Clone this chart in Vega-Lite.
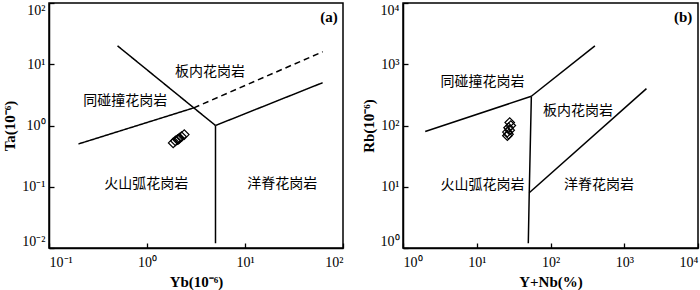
{
  "$schema": "https://vega.github.io/schema/vega-lite/v6.json",
  "padding": {"left": 2, "top": 1, "right": 0, "bottom": 0},
  "background": "white",
  "bounds": "flush",
  "spacing": 60,
  "config": {
    "view": {"stroke": "black", "strokeWidth": 1.5},
    "axis": {
      "grid": false,
      "domainColor": "black",
      "domainWidth": 1.5,
      "tickColor": "black",
      "tickWidth": 1.3,
      "tickSize": -5,
      "labelColor": "black",
      "labelFont": "Liberation Serif",
      "labelFontSize": 14,
      "labelFlush": true,
      "titleFont": "Liberation Serif",
      "titleFontSize": 15,
      "titleFontWeight": "bold",
      "titleColor": "black",
      "labelExpr": "'10' + replace(replace(replace(replace(replace(replace('' + round(log(datum.value)/LN10), '-', '⁻'), '0', '⁰'), '1', '¹'), '2', '²'), '3', '³'), '4', '⁴')"
    },
    "axisX": {"labelPadding": 12, "titlePadding": 5},
    "axisY": {"labelPadding": 9, "titlePadding": 4}
  },
  "datasets": {
    "a_lines": [
      {"seg": "a1", "o": 1, "x": 0.5, "y": 20, "dash": "solid"},
      {"seg": "a1", "o": 2, "x": 5, "y": 1, "dash": "solid"},
      {"seg": "a2", "o": 1, "x": 5, "y": 1, "dash": "solid"},
      {"seg": "a2", "o": 2, "x": 5, "y": 0.012, "dash": "solid"},
      {"seg": "a3", "o": 1, "x": 5, "y": 1, "dash": "solid"},
      {"seg": "a3", "o": 2, "x": 62, "y": 5, "dash": "solid"},
      {"seg": "a4", "o": 1, "x": 0.2, "y": 0.5, "dash": "solid"},
      {"seg": "a4", "o": 2, "x": 3.0, "y": 1.94, "dash": "solid"},
      {"seg": "a5", "o": 1, "x": 3.0, "y": 1.94, "dash": "dashed"},
      {"seg": "a5", "o": 2, "x": 62, "y": 16, "dash": "dashed"}
    ],
    "a_labels": [
      {"x": 4.4, "y": 7.5, "label": "板内花岗岩"},
      {"x": 0.6, "y": 2.5, "label": "同碰撞花岗岩"},
      {"x": 0.98, "y": 0.11, "label": "火山弧花岗岩"},
      {"x": 24, "y": 0.11, "label": "洋脊花岗岩"}
    ],
    "a_points": [
      {"x": 1.85, "y": 0.52},
      {"x": 1.95, "y": 0.56},
      {"x": 2.05, "y": 0.59},
      {"x": 2.1, "y": 0.6},
      {"x": 2.15, "y": 0.62},
      {"x": 2.25, "y": 0.66},
      {"x": 2.4, "y": 0.71}
    ],
    "b_lines": [
      {"seg": "b1", "o": 1, "x": 2, "y": 80},
      {"seg": "b1", "o": 2, "x": 55, "y": 300},
      {"seg": "b2", "o": 1, "x": 55, "y": 300},
      {"seg": "b2", "o": 2, "x": 400, "y": 2000},
      {"seg": "b3", "o": 1, "x": 55, "y": 300},
      {"seg": "b3", "o": 2, "x": 51.5, "y": 8},
      {"seg": "b3", "o": 3, "x": 50, "y": 1.2},
      {"seg": "b4", "o": 1, "x": 51.5, "y": 8},
      {"seg": "b4", "o": 2, "x": 2000, "y": 400}
    ],
    "b_labels": [
      {"x": 12, "y": 513, "label": "同碰撞花岗岩"},
      {"x": 236, "y": 173, "label": "板内花岗岩"},
      {"x": 12, "y": 10.6, "label": "火山弧花岗岩"},
      {"x": 455, "y": 10.6, "label": "洋脊花岗岩"}
    ],
    "b_points": [
      {"x": 28, "y": 112},
      {"x": 29, "y": 100},
      {"x": 27, "y": 92},
      {"x": 28, "y": 84},
      {"x": 26, "y": 78},
      {"x": 27, "y": 72},
      {"x": 26, "y": 68}
    ],
    "a_tag": [{"x": 72, "y": 59, "label": "(a)"}],
    "b_tag": [{"x": 6300, "y": 5900, "label": "(b)"}]
  },
  "hconcat": [
    {
      "width": 294,
      "height": 245,
      "layer": [
        {
          "data": {"name": "a_lines"},
          "mark": {"type": "line", "color": "black", "strokeWidth": 1.5},
          "encoding": {
            "x": {"field": "x", "type": "quantitative", "scale": {"type": "log", "domain": [0.1, 100], "nice": false}, "axis": {"values": [0.1, 1, 10, 100], "title": "Yb(10⁻⁶)"}},
            "y": {"field": "y", "type": "quantitative", "scale": {"type": "log", "domain": [0.01, 100], "nice": false}, "axis": {"values": [0.01, 0.1, 1, 10, 100], "title": "Ta(10⁻⁶)"}},
            "detail": {"field": "seg"},
            "order": {"field": "o"},
            "strokeDash": {"field": "dash", "type": "nominal", "scale": {"domain": ["solid", "dashed"], "range": [[1, 0], [6, 4]]}, "legend": null}
          }
        },
        {
          "data": {"name": "a_labels"},
          "mark": {"type": "text", "font": "Noto Sans CJK SC", "fontSize": 14, "color": "black"},
          "encoding": {
            "x": {"field": "x", "type": "quantitative"},
            "y": {"field": "y", "type": "quantitative"},
            "text": {"field": "label"}
          }
        },
        {
          "data": {"name": "a_tag"},
          "mark": {"type": "text", "font": "Liberation Serif", "fontSize": 15, "fontWeight": "bold", "color": "black"},
          "encoding": {
            "x": {"field": "x", "type": "quantitative"},
            "y": {"field": "y", "type": "quantitative"},
            "text": {"field": "label"}
          }
        },
        {
          "data": {"name": "a_points"},
          "mark": {"type": "point", "shape": "diamond", "filled": false, "color": "black", "size": 90, "strokeWidth": 1.2, "opacity": 1},
          "encoding": {
            "x": {"field": "x", "type": "quantitative"},
            "y": {"field": "y", "type": "quantitative"}
          }
        }
      ]
    },
    {
      "width": 295,
      "height": 245,
      "layer": [
        {
          "data": {"name": "b_lines"},
          "mark": {"type": "line", "color": "black", "strokeWidth": 1.5},
          "encoding": {
            "x": {"field": "x", "type": "quantitative", "scale": {"type": "log", "domain": [1, 10000], "nice": false}, "axis": {"values": [1, 10, 100, 1000, 10000], "title": "Y+Nb(%)"}},
            "y": {"field": "y", "type": "quantitative", "scale": {"type": "log", "domain": [1, 10000], "nice": false}, "axis": {"values": [1, 10, 100, 1000, 10000], "title": "Rb(10⁻⁶)"}},
            "detail": {"field": "seg"},
            "order": {"field": "o"}
          }
        },
        {
          "data": {"name": "b_labels"},
          "mark": {"type": "text", "font": "Noto Sans CJK SC", "fontSize": 14, "color": "black"},
          "encoding": {
            "x": {"field": "x", "type": "quantitative"},
            "y": {"field": "y", "type": "quantitative"},
            "text": {"field": "label"}
          }
        },
        {
          "data": {"name": "b_tag"},
          "mark": {"type": "text", "font": "Liberation Serif", "fontSize": 15, "fontWeight": "bold", "color": "black"},
          "encoding": {
            "x": {"field": "x", "type": "quantitative"},
            "y": {"field": "y", "type": "quantitative"},
            "text": {"field": "label"}
          }
        },
        {
          "data": {"name": "b_points"},
          "mark": {"type": "point", "shape": "diamond", "filled": false, "color": "black", "size": 90, "strokeWidth": 1.2, "opacity": 1},
          "encoding": {
            "x": {"field": "x", "type": "quantitative"},
            "y": {"field": "y", "type": "quantitative"}
          }
        }
      ]
    }
  ]
}
